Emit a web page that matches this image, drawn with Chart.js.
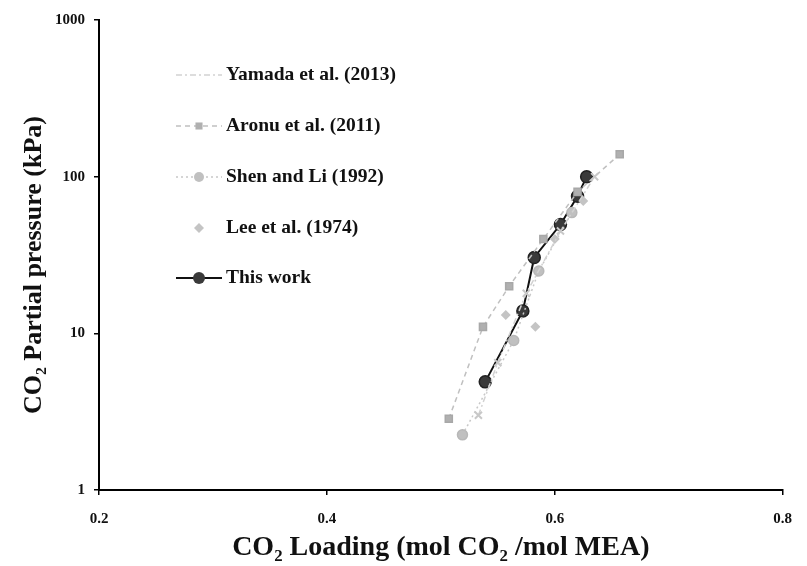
<!DOCTYPE html>
<html>
<head>
<meta charset="utf-8">
<script src="https://cdn.jsdelivr.net/npm/chart.js@4.4.1/dist/chart.umd.min.js"></script>
<style>
  html, body { margin: 0; padding: 0; background: #ffffff; overflow: hidden; }
  canvas { display: block; }
</style>
</head>
<body>
<canvas id="c" width="807" height="566" style="width:807px;height:566px"></canvas>
<script>
// ---- data ----
const xTickValues = [0.2, 0.4, 0.6, 0.8];
const yTickValues = [1, 10, 100, 1000];

const seriesNames = ["Yamada et al. (2013)", "Aronu et al. (2011)", "Shen and Li (1992)", "Lee et al. (1974)", "This work"];

const yamadaLoading = [0.533, 0.550, 0.575, 0.605, 0.635];
const yamadaPressure = [3.0, 6.5, 18, 45, 100];

const aronuLoading = [0.507, 0.537, 0.560, 0.590, 0.620, 0.657];
const aronuPressure = [2.85, 11.0, 20, 40, 80, 139];

const shenLoading = [0.519, 0.564, 0.586, 0.615];
const shenPressure = [2.25, 9.0, 25, 59];

const leeLoading = [0.557, 0.583, 0.600, 0.625];
const leePressure = [13.1, 11, 40, 70];

const thisLoading = [0.539, 0.572, 0.582, 0.605, 0.620, 0.628];
const thisPressure = [4.9, 13.9, 30.5, 49.5, 75, 100];

const xTitle = 'CO₂ Loading (mol CO₂ /mol MEA)';
const yTitle = 'CO₂ Partial pressure (kPa)';

function pts(xs, ys) { return xs.map((x, i) => ({ x: x, y: ys[i] })); }

const SERIF = "'Liberation Serif', 'Times New Roman', 'DejaVu Serif', serif";

const datasets = [
  { label: seriesNames[0], data: pts(yamadaLoading, yamadaPressure), borderColor: '#d2d2d2', backgroundColor: '#c8c8c8',
    borderWidth: 1.5, borderDash: [6, 3, 2, 3], pointStyle: 'crossRot', pointRadius: 5, pointBorderWidth: 2, pointBorderColor: '#c8c8c8', showLine: true },
  { label: seriesNames[1], data: pts(aronuLoading, aronuPressure), borderColor: '#c0c0c0', backgroundColor: '#b0b0b0',
    borderWidth: 1.5, borderDash: [5, 4], pointStyle: 'rect', pointRadius: 5, pointBorderColor: '#a8a8a8', showLine: true },
  { label: seriesNames[2], data: pts(shenLoading, shenPressure), borderColor: '#c8c8c8', backgroundColor: '#c0c0c0',
    borderWidth: 1.5, borderDash: [2, 3], pointStyle: 'circle', pointRadius: 5, pointBorderColor: '#b8b8b8', showLine: true },
  { label: seriesNames[3], data: pts(leeLoading, leePressure), borderColor: '#cacaca', backgroundColor: '#c4c4c4',
    borderWidth: 0, pointStyle: 'rectRot', pointRadius: 5, pointBorderColor: '#bcbcbc', showLine: false },
  { label: seriesNames[4], data: pts(thisLoading, thisPressure), borderColor: '#111111', backgroundColor: '#3a3a3a',
    borderWidth: 2, pointStyle: 'circle', pointRadius: 6, pointBorderColor: '#222222', pointBorderWidth: 1.5, showLine: true }
];

// custom legend drawn inside the plot area + rotated y title
const insideLegend = {
  id: 'insideLegend',
  afterDraw(chart) {
    const ctx = chart.ctx;
    const rows = [75, 126, 177, 228, 278];
    const x0 = 176, x1 = 222, xm = 199, tx = 226;
    ctx.save();
    chart.data.datasets.forEach((ds, i) => {
      const y = rows[i];
      if (ds.showLine) {
        ctx.beginPath();
        ctx.strokeStyle = ds.borderColor;
        ctx.lineWidth = ds.borderWidth;
        ctx.setLineDash(ds.borderDash || []);
        ctx.moveTo(x0, y); ctx.lineTo(x1, y);
        ctx.stroke();
        ctx.setLineDash([]);
      }
      ctx.fillStyle = ds.backgroundColor;
      ctx.strokeStyle = ds.pointBorderColor;
      ctx.lineWidth = ds.pointBorderWidth || 1;
      ctx.beginPath();
      Chart.helpers.drawPoint(ctx, { pointStyle: ds.pointStyle, radius: ds.pointRadius, rotation: 0 }, xm, y);
      ctx.fillStyle = '#111111';
      ctx.font = "bold 19.5px " + SERIF;
      ctx.textAlign = 'left';
      ctx.textBaseline = 'middle';
      ctx.fillText(ds.label, tx, y);
    });
    // y axis title
    ctx.translate(34, 265);
    ctx.rotate(-Math.PI / 2);
    ctx.fillStyle = '#111111';
    ctx.font = "bold 26px " + SERIF;
    ctx.textAlign = 'center';
    ctx.textBaseline = 'middle';
    ctx.fillText(yTitle, 0, 0);
    ctx.restore();
  }
};

new Chart(document.getElementById('c'), {
  type: 'scatter',
  data: { datasets: datasets },
  plugins: [insideLegend],
  options: {
    responsive: false,
    maintainAspectRatio: false,
    devicePixelRatio: 1,
    animation: false,
    layout: { autoPadding: false, padding: { top: 20, right: 13, bottom: 0, left: 0 } },
    plugins: { legend: { display: false }, tooltip: { enabled: false } },
    elements: { line: { tension: 0 } },
    scales: {
      x: {
        type: 'linear', min: 0.2, max: 0.8,
        afterBuildTicks(scale) { scale.ticks = xTickValues.map(v => ({ value: v })); },
        afterFit(scale) { scale.height = 76; },
        ticks: { callback: v => Number(v).toFixed(1), font: { family: SERIF, size: 15, weight: 'bold' }, color: '#111', padding: 15, maxRotation: 0 },
        grid: { display: true, drawOnChartArea: false, drawTicks: true, tickLength: 5, color: '#000', lineWidth: 1.5 },
        border: { display: true, color: '#000', width: 2 },
        title: { display: true, text: xTitle, font: { family: SERIF, size: 28, weight: 'bold' }, color: '#111', padding: { top: 0, bottom: 1 } }
      },
      y: {
        type: 'logarithmic', min: 1, max: 1000,
        afterBuildTicks(scale) { scale.ticks = yTickValues.map(v => ({ value: v })); },
        afterFit(scale) { scale.width = 99; },
        ticks: { callback: v => String(v), font: { family: SERIF, size: 15, weight: 'bold' }, color: '#111', padding: 9 },
        grid: { display: true, drawOnChartArea: false, drawTicks: true, tickLength: 5, color: '#000', lineWidth: 1.5 },
        border: { display: true, color: '#000', width: 2 },
        title: { display: false }
      }
    }
  }
});
</script>
</body>
</html>
